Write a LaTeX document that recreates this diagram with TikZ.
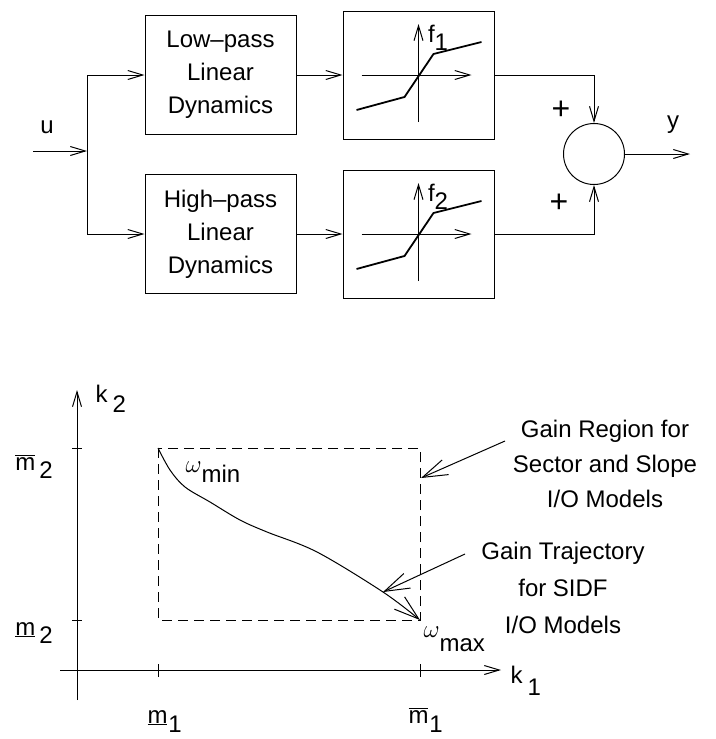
\documentclass[tikz,border=0pt]{standalone}
\usepackage{fontspec}
\setmainfont{Liberation Sans}
\usepackage{tikz}
\usetikzlibrary{arrows.meta, positioning}

\begin{document}
\begin{tikzpicture}[
    x=1pt, y=-1pt,
    font=\fontsize{24}{33}\selectfont,
    line width=1pt,
    box/.style={rectangle, draw, minimum width=151pt, minimum height=119pt, inner sep=0pt, align=center},
    nlbox/.style={rectangle, draw, minimum width=151pt, minimum height=128pt, inner sep=0pt},
    arrow/.style={-{Straight Barb[length=15pt, width=9pt]}},
    bigarrow/.style={-{Straight Barb[length=25pt, width=16pt]}},
    label/.style={inner sep=0pt, anchor=base west}
]
\useasboundingbox (0,0) rectangle (715,739);

% Block diagram
\node[box] (lowpass) at (220.5,75) {Low--pass\\Linear\\Dynamics};
\node[box, below=39pt of lowpass] (highpass) {High--pass\\Linear\\Dynamics};
\node[nlbox, right=46pt of lowpass] (f1) {};
\node[nlbox, right=46pt of highpass] (f2) {};
\node[circle, draw, minimum size=61pt, inner sep=0pt] (sum) at (594,154) {};

% Static nonlinearities
\begin{scope}[shift={(f1.center)}]
    \draw[arrow] (-57,0) -- (53,0);
    \draw[arrow] (0,47) -- (0,-51);
    \draw[line width=1.8pt] (-62,35) -- (-14,22) -- (15,-21) -- (63,-33);
    \node[label] (f1label) at (9,-33) {f\raisebox{-8pt}{1}};
\end{scope}
\begin{scope}[shift={(f2.center)}]
    \draw[arrow] (-57,0) -- (53,0);
    \draw[arrow] (0,47) -- (0,-51);
    \draw[line width=1.8pt] (-62,35) -- (-14,22) -- (15,-21) -- (63,-33);
    \node[label] (f2label) at (9,-33) {f\raisebox{-8pt}{2}};
\end{scope}

% Signal lines
\coordinate (in) at (33,151);
\coordinate (split) at (87,151);
\coordinate (out) at (690,154);
\draw[arrow] (in) -- (split);
\draw[arrow] (split) |- (lowpass.west);
\draw[arrow] (split) |- (highpass.west);
\draw[arrow] (lowpass) -- (f1);
\draw[arrow] (highpass) -- (f2);
\draw[arrow] (f1.east) -| (sum.north);
\draw[arrow] (f2.east) -| (sum.south);
\draw[arrow] (sum) -- (out);

\node (u) at (47,127) {u};
\node (y) at (673,125) {y};
\node[font=\fontsize{32}{36}\selectfont] (plus1) at (561,110) {+};
\node[font=\fontsize{32}{36}\selectfont] (plus2) at (559,203) {+};

% Gain plane
\coordinate (k2start) at (77,700);
\coordinate (k2end) at (77,390);
\coordinate (k1start) at (60,670);
\coordinate (k1end) at (501,670);
\draw[arrow] (k2start) -- (k2end);
\draw[arrow] (k1start) -- (k1end);
\draw (72,448) -- (82,448);
\draw (72,620) -- (82,620);
\draw (158,664) -- (158,677);
\draw (420,664) -- (420,677);

\draw[dash pattern=on 10pt off 6pt] (158,448) rectangle (420,620);
\coordinate (wmin) at (158,448);
\coordinate (wmax) at (420,620);
\draw[bigarrow] plot[smooth, tension=0.55] coordinates
    {(158,448) (170,470) (185,487) (210,502) (240,520) (267,532) (317,552) (383,592) (420,620)};

\node[label] (k2) at (95,402) {k\hspace{5pt}\raisebox{-10pt}{2}};
\node[label] (k1) at (510,683) {k\hspace{5pt}\raisebox{-12pt}{1}};
\node[label] (m2up) at (15,470) {$\overline{\mbox{m}}$\hspace{4pt}\raisebox{-8pt}{2}};
\node[label] (m2low) at (15,635) {\underline{m}\hspace{4pt}\raisebox{-8pt}{2}};
\node[label] (m1low) at (147,723) {\underline{m}\hspace{1pt}\raisebox{-9pt}{1}};
\node[label] (m1up) at (408,723) {$\overline{\mbox{m}}$\hspace{1pt}\raisebox{-9pt}{1}};
\node[label] (omin) at (185,472) {$\omega$\raisebox{-10pt}{min}};
\node[label] (omax) at (423,637) {$\omega$\raisebox{-14pt}{max}};

% Annotations
\node[align=center, font=\fontsize{24}{35}\selectfont] (region) at (605,464) {Gain Region for\\Sector and Slope\\I/O Models};
\node[align=center, font=\fontsize{24}{37}\selectfont] (traj) at (563,588) {Gain Trajectory\\for SIDF\\I/O Models};
\coordinate (regiontail) at (505,441);
\coordinate (regiontip) at (421,478);
\coordinate (trajtail) at (465,554);
\coordinate (trajtip) at (383,592);
\draw[bigarrow] (regiontail) -- (regiontip);
\draw[bigarrow] (trajtail) -- (trajtip);

\end{tikzpicture}
\end{document}
